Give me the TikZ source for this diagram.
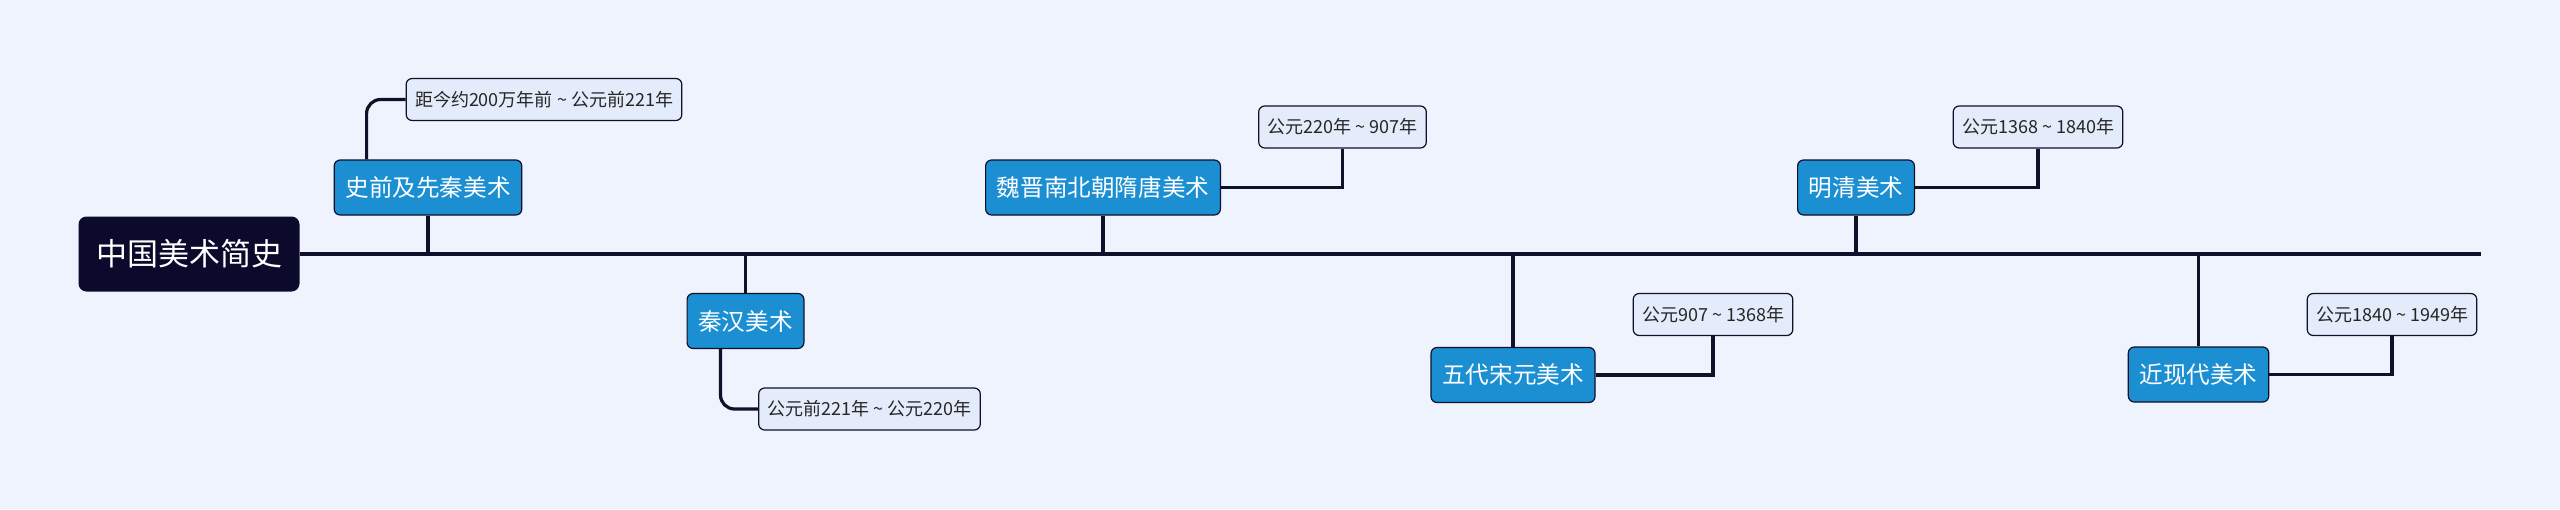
\documentclass[tikz,border=0pt]{standalone}
\usepackage{fontspec}
\setmainfont{Noto Sans CJK SC}
\usetikzlibrary{positioning}
\definecolor{bgblue}{HTML}{EEF3FE}
\definecolor{topicblue}{HTML}{1B8FD2}
\definecolor{rootnavy}{HTML}{0B0A2C}
\definecolor{notefill}{HTML}{E4ECFB}
\definecolor{linedark}{HTML}{10102A}

\begin{document}
\begin{tikzpicture}[x=0.5pt, y=-0.5pt,
    root/.style={rounded corners=4pt, fill=rootnavy, text=white, font=\fontsize{15.5}{18}\selectfont, inner xsep=8.75pt, minimum height=37.5pt},
    topic/.style={rounded corners=3pt, draw=linedark, line width=0.6pt, fill=topicblue, text=white, font=\fontsize{11.8}{14}\selectfont, inner xsep=5.6pt, minimum height=27.5pt},
    note/.style={rounded corners=3pt, draw=linedark, line width=0.6pt, fill=notefill, text=black!85, font=\fontsize{9}{11}\selectfont, inner xsep=4.4pt, minimum height=21pt},
    link/.style={draw=linedark, line width=1.6pt}]
  \fill[bgblue] (0,0) rectangle (2560,509);
  \node[root] (root) at (189,254) {中国美术简史};
  \coordinate (axisend) at (2481,254);
  \draw[link, line width=1.8pt] (root.east) -- (axisend);

  % periods
  \node[topic] (pre) at (428,187.5) {史前及先秦美术};
  \node[topic] (qinhan) at (745.5,321) {秦汉美术};
  \node[topic] (weijin) at (1103,187.5) {魏晋南北朝隋唐美术};
  \node[topic] (wudai) at (1513,375) {五代宋元美术};
  \node[topic] (mingqing) at (1856,187.5) {明清美术};
  \node[topic] (jinxian) at (2198.5,374.5) {近现代美术};

  % dates
  \node[note] (n1) at (544,99.5) {距今约200万年前 \textasciitilde{} 公元前221年};
  \node[note] (n2) at (869.5,409) {公元前221年 \textasciitilde{} 公元220年};
  \node[note] (n3) at (1342.5,127) {公元220年 \textasciitilde{} 907年};
  \node[note] (n4) at (1713,314.5) {公元907 \textasciitilde{} 1368年};
  \node[note] (n5) at (2038,127) {公元1368 \textasciitilde{} 1840年};
  \node[note] (n6) at (2392,314.5) {公元1840 \textasciitilde{} 1949年};

  \draw[link] (pre.south) -- (pre.south |- axisend);
  \draw[link] (weijin.south) -- (weijin.south |- axisend);
  \draw[link] (mingqing.south) -- (mingqing.south |- axisend);
  \draw[link] (qinhan.north) -- (qinhan.north |- axisend);
  \draw[link] (wudai.north) -- (wudai.north |- axisend);
  \draw[link] (jinxian.north) -- (jinxian.north |- axisend);

  \draw[link, rounded corners=7pt] ([xshift=16.5pt]pre.north west) |- (n1.west);
  \draw[link, rounded corners=7pt] ([xshift=17pt]qinhan.south west) |- (n2.west);
  \draw[link] (weijin.east) -| (n3.south);
  \draw[link] (wudai.east) -| (n4.south);
  \draw[link] (mingqing.east) -| (n5.south);
  \draw[link] (jinxian.east) -| (n6.south);
\end{tikzpicture}
\end{document}
